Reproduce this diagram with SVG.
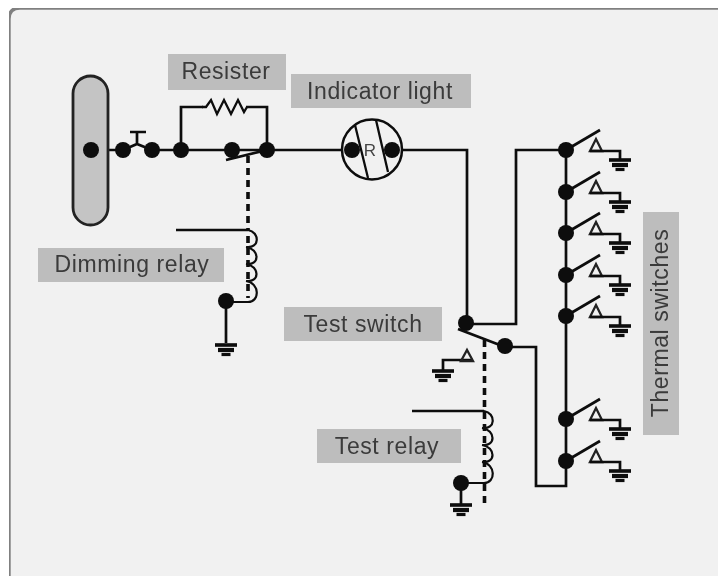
<svg xmlns="http://www.w3.org/2000/svg" width="718" height="576" viewBox="0 0 718 576">
<defs>
<style>
.w{fill:none;stroke:#0c0c0c;stroke-width:2.7;stroke-linejoin:miter}
.t{fill:none;stroke:#0c0c0c;stroke-width:2.3}
.d{fill:none;stroke:#0c0c0c;stroke-width:3.6;stroke-dasharray:7 5}
.c{fill:none;stroke:#0c0c0c;stroke-width:2.2}
.lb{fill:#bdbdbd}
.tx{font-family:"Liberation Sans",Arial,sans-serif;font-size:23px;letter-spacing:.6px;fill:#3a3a3a;text-anchor:middle}
.j{fill:#0c0c0c}
.tri{fill:none;stroke:#222;stroke-width:2.3}
.g{fill:none;stroke:#0c0c0c}
</style>
<filter id="soft" x="0" y="0" width="100%" height="100%"><feGaussianBlur stdDeviation="0.45"/></filter>
<g id="dot"><circle r="8" class="j"/></g>
<g id="gnd"><path class="g" d="M-11 0H11" stroke-width="3.6"/><path class="g" d="M-8 5H8" stroke-width="4.2"/><path class="g" d="M-4.500 9.500H4.500" stroke-width="3.2"/></g>
<g id="tsw"><path class="w" d="M0 0L34 -20"/><path class="tri" d="M24 1L30 -11L36 1Z"/><path class="w" d="M24 1H54V10"/><use href="#gnd" x="54" y="10"/><use href="#dot"/></g>
</defs>
<rect x="0" y="0" width="718" height="576" fill="#ffffff"/>
<g filter="url(#soft)">
<path d="M725 8H20Q9 8 9 19V585H725Z" fill="#f1f1f1" stroke="#808080" stroke-width="3.400"/>
<g id="connectors">
<path class="w" d="M91 150H123M152 150H352M393 150H467V322"/>
<path class="w" d="M181 150V107H203M246 107H267V150"/>
<path class="t" d="M202 107L206 107L211 100L217 114L224 100L231 114L238 100L244 112L247 107"/>
<path class="w" d="M123 150L137 144L152 150M137 144V133M130 132H146"/>
<path class="w" d="M226 160L267 150"/>
<path class="d" d="M248 156V230"/>
<path class="w" d="M176 230H248"/>
<path class="c" d="M248 230C260 232 260 249 246 247C260 249 260 266 246 264C260 266 260 283 246 281C260 283 260 302 248 302H226"/>
<path class="d" d="M248 236V298"/>
<path class="w" d="M226 301V343"/>
<path class="w" d="M467 324H516V150H566"/>
<path class="w" d="M566 150V486H536V347H505"/>
<path class="w" d="M458 329L505 347"/>
<path class="d" d="M484.500 340V503"/>
<path class="w" d="M412 411H484"/>
<path class="c" d="M484 411C496 413 496 430 482 428C496 430 496 447 482 445C496 447 496 464 482 462C496 464 496 483 484 483H461"/>
<path class="w" d="M461 483V504"/>
<path class="w" d="M443 370V360H473"/>
<path class="tri" d="M461 361L467 350L473 361Z"/>
</g>
<g id="battery"><rect x="73" y="76" width="35" height="149" rx="17.500" fill="#c4c4c4" stroke="#222" stroke-width="2.800"/><use href="#dot" x="91" y="150"/></g>
<g id="switch"><use href="#dot" x="123" y="150"/><use href="#dot" x="152" y="150"/></g>
<g id="resister"><rect class="lb" x="168" y="54" width="118" height="36"/><text class="tx" x="226" y="79">Resister</text><use href="#dot" x="181" y="150"/><use href="#dot" x="232" y="150"/><use href="#dot" x="267" y="150"/></g>
<g id="indicator-light"><rect class="lb" x="291" y="74" width="180" height="34"/><text class="tx" x="380" y="99">Indicator light</text>
<circle cx="372" cy="149.500" r="30" fill="#f1f1f1" stroke="#0c0c0c" stroke-width="2.500"/>
<path class="t" d="M355 125L368 178M376 120L388 172"/>
<use href="#dot" x="352" y="150"/><use href="#dot" x="392" y="150"/>
<text x="370" y="156" font-family="Liberation Sans,Arial,sans-serif" font-size="17" fill="#444" text-anchor="middle">R</text></g>
<g id="dimming-relay"><rect class="lb" x="38" y="248" width="186" height="34"/><text class="tx" x="132" y="272">Dimming relay</text><use href="#dot" x="226" y="301"/><use href="#gnd" x="226" y="345"/></g>
<g id="test-switch"><rect class="lb" x="284" y="307" width="158" height="34"/><text class="tx" x="363" y="332">Test switch</text><use href="#dot" x="466" y="323"/><use href="#dot" x="505" y="346"/><use href="#gnd" x="443" y="371"/></g>
<g id="test-relay"><rect class="lb" x="317" y="429" width="144" height="34"/><text class="tx" x="387" y="454">Test relay</text><use href="#dot" x="461" y="483"/><use href="#gnd" x="461" y="505"/></g>
<g id="thermal-switches"><rect class="lb" x="643" y="212" width="36" height="223"/><text class="tx" transform="translate(668 323) rotate(-90)">Thermal switches</text>
<use href="#tsw" x="566" y="150"/><use href="#tsw" x="566" y="192"/><use href="#tsw" x="566" y="233"/><use href="#tsw" x="566" y="275"/><use href="#tsw" x="566" y="316"/><use href="#tsw" x="566" y="419"/><use href="#tsw" x="566" y="461"/></g>
</g>
</svg>
